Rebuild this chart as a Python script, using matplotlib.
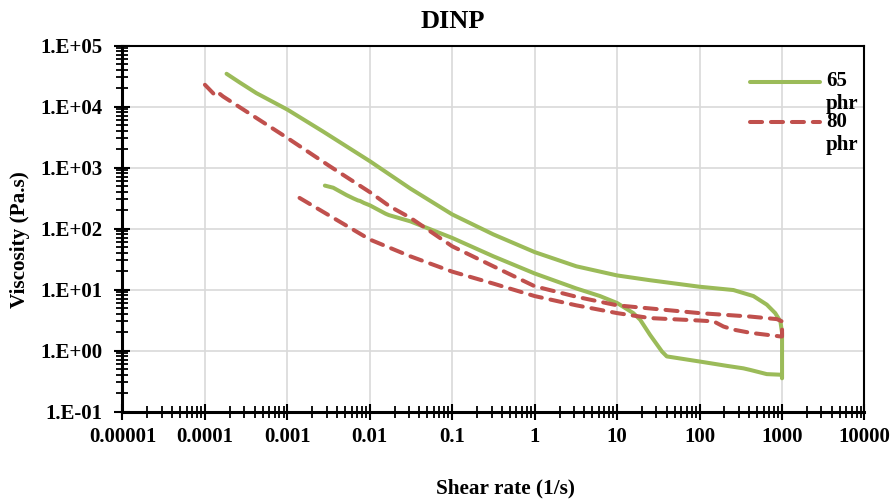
#!/usr/bin/env python3
"""
Viscosity vs shear rate for DINP plastisols (65 and 80 phr), log-log.
Each series is a loop: up-sweep to 1000 1/s then back down.
"""
import matplotlib
matplotlib.use('Agg')
import matplotlib.pyplot as plt
from matplotlib.legend_handler import HandlerLine2D
from matplotlib.ticker import FixedLocator, FixedFormatter, LogLocator, NullFormatter
import numpy as np

matplotlib.rcParams['font.family'] = ['Liberation Serif', 'DejaVu Serif']
matplotlib.rcParams['font.weight'] = 'bold'

# 65 phr: upper branch, drop at 1000 1/s, lower branch back
rate_65 = [1.83e-4, 2.65e-4, 4.2e-4, 0.001, 0.0027, 0.01, 0.031, 0.1, 0.315, 1, 3.2, 10,
           25, 100, 257, 450, 653, 826, 955, 1000, 1000,
           990, 653, 412, 340, 214, 100, 40, 35, 25, 19, 15.7, 10, 6.2, 3.2, 1, 0.315,
           0.1, 0.031, 0.017, 0.0155, 0.01, 0.0085, 0.0076, 0.0072, 0.0063, 0.0052,
           0.0036, 0.00285]
visc_65 = [34400, 24700, 16600, 8900, 3900, 1270, 452, 170, 80, 41, 24, 17,
           14.2, 11.1, 9.8, 7.8, 5.65, 4.1, 3.0, 1.95, 0.35,
           0.40, 0.41, 0.48, 0.51, 0.56, 0.66, 0.80, 0.96, 1.81, 3.2, 4.1, 6.0, 7.8, 10.4, 18.3, 35,
           70, 131, 166, 175, 240, 262, 283, 288, 312, 354,
           466, 505]

# 80 phr
rate_80 = [1.0e-4, 1.15e-4, 1.32e-4, 1.44e-4, 1.66e-4, 0.001, 0.0033, 0.01, 0.0175, 0.031,
           0.1, 0.315, 1, 3.2, 10, 100, 412, 865, 1000, 1000,
           955, 412, 257, 195, 148, 100, 25, 10, 3.2, 1, 0.315, 0.1, 0.031, 0.01,
           0.00226, 0.0014]
visc_80 = [22700, 18700, 15400, 17000, 14600, 3050, 1040, 395, 230, 150,
           51, 24, 11.3, 7.6, 5.5, 4.1, 3.6, 3.27, 3.0, 1.7,
           1.7, 1.95, 2.2, 2.47, 3.0, 3.1, 3.4, 4.1, 5.5, 7.8, 12.5, 19.6, 35, 66,
           217, 318]

series_labels = ['65\nphr', '80\nphr']
green = '#9BBB59'
red = '#C0504D'

xticks = [1e-5, 1e-4, 1e-3, 1e-2, 1e-1, 1, 10, 100, 1000, 10000]
xtick_labels = ['0.00001', '0.0001', '0.001', '0.01', '0.1', '1', '10', '100', '1000', '10000']
yticks = [1e-1, 1, 10, 100, 1e3, 1e4, 1e5]
ytick_labels = ['1.E-01', '1.E+00', '1.E+01', '1.E+02', '1.E+03', '1.E+04', '1.E+05']

FS = 15


class FirstLineHandler(HandlerLine2D):
    """Put the legend line level with the first line of a wrapped label."""
    def create_artists(self, legend, orig_handle, xdescent, ydescent, width, height, fontsize, trans):
        arts = super().create_artists(legend, orig_handle, xdescent, ydescent,
                                      width, height, fontsize, trans)
        for a in arts:
            a.set_ydata(np.asarray(a.get_ydata()) + 8.1)
        return arts


fig = plt.figure(figsize=(8.94, 5), dpi=100)
ax = fig.add_axes([0.137, 0.177, 0.830, 0.732])

l65, = ax.plot(rate_65, visc_65, color=green, lw=2.9, solid_capstyle='round',
               solid_joinstyle='round', label=series_labels[0], zorder=3)
l80, = ax.plot(rate_80, visc_80, color=red, lw=2.9, ls=(0, (3.0, 2.2)),
               dash_capstyle='round', dash_joinstyle='round',
               label=series_labels[1], zorder=3)

ax.set_xscale('log')
ax.set_yscale('log')
ax.set_xlim(1e-5, 1e4)
ax.set_ylim(1e-1, 1e5)

ax.xaxis.set_major_locator(FixedLocator(xticks))
ax.xaxis.set_major_formatter(FixedFormatter(xtick_labels))
ax.yaxis.set_major_locator(FixedLocator(yticks))
ax.yaxis.set_major_formatter(FixedFormatter(ytick_labels))
for axis in (ax.xaxis, ax.yaxis):
    axis.set_minor_locator(LogLocator(base=10, subs=np.arange(2, 10), numticks=20))
    axis.set_minor_formatter(NullFormatter())

ax.tick_params(which='major', direction='inout', length=11, width=1.5, color='black',
               labelsize=FS)
ax.tick_params(which='minor', direction='inout', length=8, width=1.3, color='black')
ax.tick_params(axis='y', which='major', pad=9)
ax.tick_params(axis='x', which='major', pad=6)
ax.tick_params(top=False, right=False, which='both')
for lab in ax.get_xticklabels() + ax.get_yticklabels():
    lab.set_fontweight('bold')

ax.grid(True, which='major', color='#D9D9D9', lw=1.2, zorder=0)
ax.set_axisbelow(True)

for side in ['left', 'bottom']:
    ax.spines[side].set_linewidth(2.2)
for side in ['top', 'right']:
    ax.spines[side].set_linewidth(1.5)

ax.set_xlabel('Shear rate (1/s)', fontsize=15.3, fontweight='bold')
ax.xaxis.set_label_coords(0.516, -0.182)
ax.set_ylabel('Viscosity (Pa.s)', fontsize=15.3, fontweight='bold')
ax.yaxis.set_label_coords(-0.125, 0.469)

fig.text(0.507, 1 - 21.7 / 500, 'DINP', ha='center', va='center',
         fontsize=19, fontweight='bold')

leg = ax.legend(handles=[l65, l80], loc='upper left', bbox_to_anchor=(0.846, 0.929),
                frameon=False, fontsize=FS, borderpad=0, borderaxespad=0,
                handlelength=3.35, handletextpad=0.29, labelspacing=-0.1,
                handler_map={l65: FirstLineHandler(), l80: FirstLineHandler()})
for t in leg.get_texts():
    t.set_linespacing(1.18)
    t.set_fontweight('bold')

fig.savefig('out.png', dpi=100)
